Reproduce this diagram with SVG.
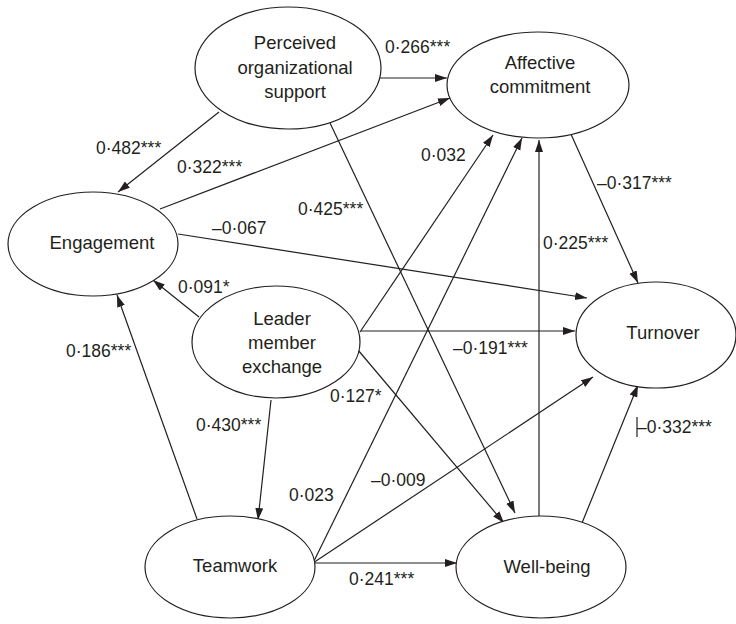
<svg xmlns="http://www.w3.org/2000/svg" width="736" height="624" viewBox="0 0 736 624">
  <style>
    .node ellipse { fill: #ffffff; stroke: #231f20; stroke-width: 1.2; }
    .node text { font-family: "Liberation Sans", Arial, sans-serif; font-size: 18.5px; fill: #231f20; text-anchor: middle; }
    .edge { stroke: #231f20; stroke-width: 1.2; fill: none; marker-end: url(#arrow); }
    .lbl { font-family: "Liberation Sans", Arial, sans-serif; font-size: 17.5px; fill: #231f20; }
  </style>
  <defs>
    <marker id="arrow" markerUnits="userSpaceOnUse" markerWidth="13" markerHeight="9" refX="12" refY="4" orient="auto">
      <path d="M0,0 L12,4 L0,8 z" fill="#231f20"/>
    </marker>
  </defs>
  <rect width="736" height="624" fill="#ffffff"/>

  <!-- connectors -->
  <g id="connectors">
    <line class="edge" x1="380" y1="78" x2="447" y2="78"/>
    <line class="edge" x1="160" y1="209" x2="450" y2="98"/>
    <line class="edge" x1="219" y1="112" x2="118" y2="192"/>
    <line class="edge" x1="330" y1="123" x2="515" y2="513"/>
    <line class="edge" x1="358" y1="350" x2="504" y2="523"/>
    <line class="edge" x1="360" y1="332" x2="493" y2="135"/>
    <line class="edge" x1="313" y1="563" x2="522" y2="138"/>
    <line class="edge" x1="313" y1="563" x2="593" y2="377"/>
    <line class="edge" x1="313" y1="563" x2="457" y2="563"/>
    <line class="edge" x1="539" y1="516" x2="539" y2="140"/>
    <line class="edge" x1="582" y1="523" x2="638" y2="385"/>
    <line class="edge" x1="570" y1="132" x2="638" y2="283"/>
    <line class="edge" x1="178" y1="234" x2="587" y2="298"/>
    <line class="edge" x1="361" y1="331" x2="575" y2="331"/>
    <line class="edge" x1="199" y1="317" x2="153" y2="280"/>
    <line class="edge" x1="197" y1="519" x2="117" y2="295"/>
    <line class="edge" x1="271" y1="400" x2="258" y2="520"/>
  </g>

  <!-- path coefficients -->
  <g id="labels">
    <text class="lbl" x="385" y="53">0·266***</text>
    <text class="lbl" x="177" y="173">0·322***</text>
    <text class="lbl" x="96" y="154">0·482***</text>
    <text class="lbl" x="298" y="215">0·425***</text>
    <text class="lbl" x="330" y="402">0·127*</text>
    <text class="lbl" x="421" y="161">0·032</text>
    <text class="lbl" x="289" y="501">0·023</text>
    <text class="lbl" x="371" y="486">–0·009</text>
    <text class="lbl" x="349" y="585">0·241***</text>
    <text class="lbl" x="543" y="249">0·225***</text>
    <line x1="637" y1="417" x2="637" y2="437" stroke="#231f20" stroke-width="1.2"/>
    <text class="lbl" x="637" y="433">–0·332***</text>
    <text class="lbl" x="597" y="189">–0·317***</text>
    <text class="lbl" x="212" y="234">–0·067</text>
    <text class="lbl" x="453" y="354">–0·191***</text>
    <text class="lbl" x="178" y="293">0·091*</text>
    <text class="lbl" x="66" y="357">0·186***</text>
    <text class="lbl" x="196" y="431">0·430***</text>
  </g>

  <!-- latent variables -->
  <g id="pos" class="node">
    <ellipse cx="288" cy="68" rx="93" ry="61"/>
    <text x="295" y="49">Perceived</text>
    <text x="295" y="74">organizational</text>
    <text x="295" y="98">support</text>
  </g>
  <g id="affective" class="node">
    <ellipse cx="538" cy="85" rx="91" ry="53"/>
    <text x="540" y="69">Affective</text>
    <text x="540" y="93">commitment</text>
  </g>
  <g id="engagement" class="node">
    <ellipse cx="93" cy="244" rx="85" ry="52"/>
    <text x="102" y="249">Engagement</text>
  </g>
  <g id="lmx" class="node">
    <ellipse cx="276" cy="342" rx="84" ry="56"/>
    <text x="282" y="325">Leader</text>
    <text x="282" y="349">member</text>
    <text x="282" y="373">exchange</text>
  </g>
  <g id="turnover" class="node">
    <ellipse cx="656" cy="335" rx="80" ry="53"/>
    <text x="663" y="339">Turnover</text>
  </g>
  <g id="teamwork" class="node">
    <ellipse cx="230" cy="567" rx="85" ry="51"/>
    <text x="235" y="572">Teamwork</text>
  </g>
  <g id="wellbeing" class="node">
    <ellipse cx="541" cy="567" rx="85" ry="51"/>
    <text x="547" y="573">Well-being</text>
  </g>
</svg>
